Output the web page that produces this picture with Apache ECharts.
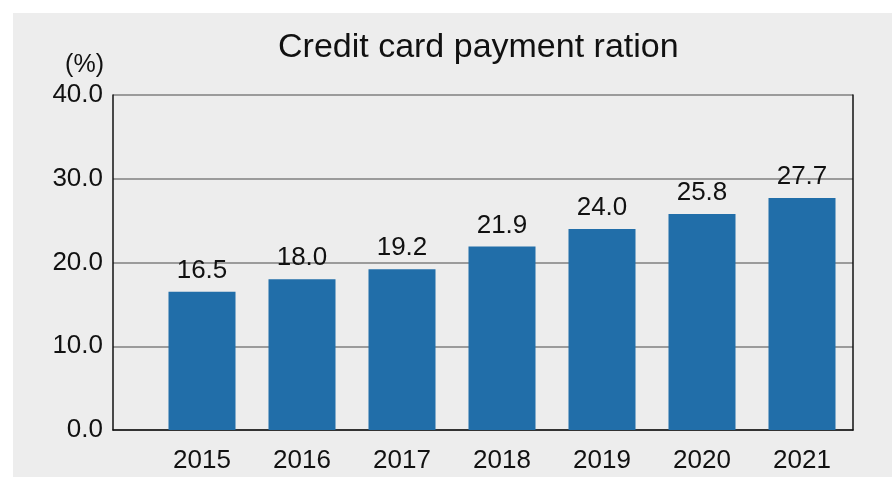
<!DOCTYPE html>
<html>
<head>
<meta charset="utf-8">
<title>Credit card payment ration</title>
<script src="https://cdn.jsdelivr.net/npm/echarts@6/dist/echarts.min.js"></script>
<style>
  html, body { margin: 0; padding: 0; background: #fff; }
  #chart { width: 892px; height: 477px; }
</style>
</head>
<body>
<div id="chart"></div>
<script>
// data
var years = ['2015', '2016', '2017', '2018', '2019', '2020', '2021'];
var ratio = [16.5, 18.0, 19.2, 21.9, 24.0, 25.8, 27.7];
var yTicks = [0, 10, 20, 30, 40];

var FONT = 'Liberation Sans, Arial, Helvetica, sans-serif';
var chart = echarts.init(document.getElementById('chart'));

chart.setOption({
  animation: false,
  backgroundColor: '#ffffff',
  textStyle: { fontFamily: FONT, color: '#111' },
  title: {
    text: 'Credit card payment ration',
    left: 273,
    top: 26,
    textStyle: { fontFamily: FONT, fontSize: 34, fontWeight: 'normal', color: '#111' }
  },
  graphic: [
    {
      type: 'rect', z: -10, silent: true,
      shape: { x: 13, y: 13, width: 879, height: 464 },
      style: { fill: '#ededed' }
    },
    {
      type: 'text', silent: true,
      style: {
        text: '(%)', x: 104, y: 65, align: 'right', verticalAlign: 'middle',
        font: '25px ' + FONT, fill: '#111'
      }
    }
  ],
  grid: [
    // frame, gridlines and y labels
    { left: 113, right: 39, top: 95, bottom: 47 },
    // bars sit in a slightly narrower band
    { left: 152, right: 40, top: 95, bottom: 47 }
  ],
  xAxis: [
    {
      type: 'category', gridIndex: 0, data: years,
      axisLine: { show: true, lineStyle: { color: '#111', width: 1.5 } },
      axisTick: { show: false },
      axisLabel: { show: false }
    },
    {
      type: 'category', gridIndex: 1, data: years,
      axisLine: { show: false },
      axisTick: { show: false },
      axisLabel: { margin: 18, fontSize: 26, color: '#111', fontFamily: FONT }
    }
  ],
  yAxis: [
    {
      type: 'value', gridIndex: 0, min: yTicks[0], max: yTicks[yTicks.length - 1], interval: 10,
      axisLine: { show: true, lineStyle: { color: '#111', width: 1.5 } },
      axisTick: { show: false },
      splitLine: { lineStyle: { color: '#7f7f7f', width: 1.5 } },
      axisLabel: {
        margin: 10, fontSize: 26, color: '#111', fontFamily: FONT,
        padding: [6, 0, 0, 0],
        formatter: function (v) { return v.toFixed(1); }
      }
    },
    {
      type: 'value', gridIndex: 0, position: 'right', min: 0, max: 40, interval: 10,
      axisLine: { show: true, lineStyle: { color: '#111', width: 1.5 } },
      axisTick: { show: false },
      splitLine: { show: false },
      axisLabel: { show: false }
    },
    {
      type: 'value', gridIndex: 1, min: 0, max: 40, interval: 10,
      show: false
    }
  ],
  series: [
    {
      name: 'Credit card payment ration',
      type: 'bar',
      xAxisIndex: 1,
      yAxisIndex: 2,
      data: ratio,
      barWidth: 67,
      itemStyle: { color: '#216ea9' },
      label: {
        show: true,
        position: 'top',
        distance: 8,
        fontSize: 26,
        color: '#111',
        fontFamily: FONT,
        formatter: function (p) { return p.value.toFixed(1); }
      }
    }
  ]
});
</script>
</body>
</html>
